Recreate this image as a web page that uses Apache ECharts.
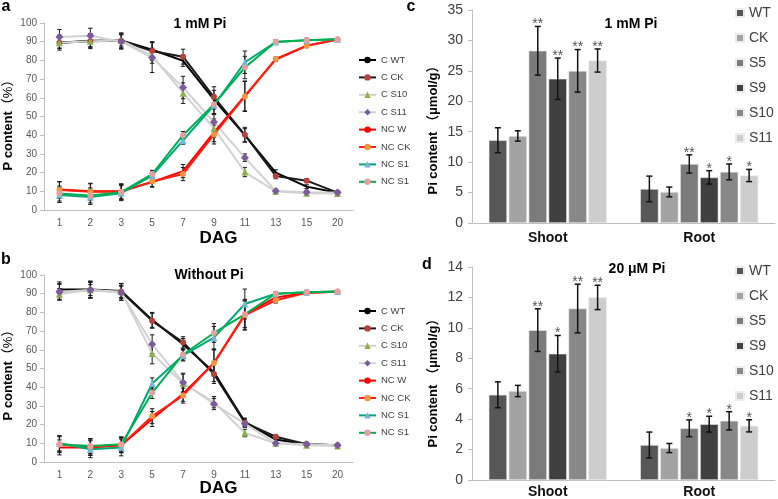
<!DOCTYPE html>
<html><head><meta charset="utf-8">
<script src="https://cdn.jsdelivr.net/npm/echarts@6/dist/echarts.min.js"></script>
<style>html,body{margin:0;padding:0;background:#fff}#c{width:778px;height:499px}</style>
</head><body><div id="c"></div>
<script>
const FF = "'Liberation Sans','Noto Sans CJK SC',sans-serif";
// ---- line panels (a, b) ----
const dag = ['1','2','3','5','7','9','11','13','15','20'];
const lineNames = ['C WT','C CK','C S10','C S11','NC WT','NC CK','NC S10','NC S11'];
// Panel a: 1 mM Pi
const a_C_WT   = [89.5, 90.5, 90.7, 85.7, 79.8, 59, 40, 20, 12.5, 9.2];
const a_C_CK   = [89.5, 90.3, 90.5, 85, 82, 60.4, 40.2, 18.2, 15.7, 9.3];
const a_C_S10  = [89.5, 90.3, 90.7, 82.5, 62.5, 43.7, 20.3, 10, 9, 8.8];
const a_C_S11  = [92.5, 93.2, 90, 81.5, 65.5, 47, 28, 10.2, 9.5, 9.3];
const a_NC_WT  = [11, 10, 10, 15, 20.8, 41.5, 61, 80.5, 87.8, 91.2];
const a_NC_CK  = [10.7, 9.8, 9.8, 15.2, 19.2, 40.3, 60.7, 80.8, 87.9, 91.2];
const a_NC_S10 = [8, 7, 9, 18.4, 37.2, 56, 79, 89.8, 90.8, 91.3];
const a_NC_S11 = [8.8, 7.8, 9.5, 19.2, 40, 56.5, 76.2, 90, 90.8, 91.3];
const a_C_WT_e   = [3, 3.5, 4, 4, 3, 5, 3.5, 1.5, 1, 0.5];
const a_C_CK_e   = [4, 4, 4, 5, 4, 5.5, 4, 1.5, 1, 0.5];
const a_C_S10_e  = [3, 3, 3, 4, 5.5, 5, 2.5, 1, 1, 0.5];
const a_C_S11_e  = [4, 4, 4, 8, 6, 4.5, 2, 1, 1, 0.5];
const a_NC_WT_e  = [4, 4, 4, 2.5, 3.5, 5, 8, 1, 1, 0.5];
const a_NC_CK_e  = [4.5, 4.5, 4, 3, 3.5, 5, 8, 1, 1, 0.5];
const a_NC_S10_e = [4, 4, 4, 2, 2, 5, 6, 1, 1, 0.5];
const a_NC_S11_e = [4, 4, 4, 2, 2, 5, 6, 1, 1, 0.5];
// Panel b: Without Pi
const b_C_WT   = [92.3, 92.3, 91.4, 76, 63, 48, 21.5, 12, 9.5, 9];
const b_C_CK   = [91, 92, 91, 75.5, 64, 47, 21, 13.5, 9.5, 9];
const b_C_S10  = [89.8, 92, 91, 58, 42, 32, 15.5, 10, 9, 8.5];
const b_C_S11  = [91, 92, 90.5, 63, 42.5, 31, 20.5, 10, 9.5, 9];
const b_NC_WT  = [7.8, 7.8, 9, 23, 36.5, 53, 79, 88, 90.5, 91];
const b_NC_CK  = [9.5, 8, 9, 24.5, 35.5, 53, 78.5, 86.5, 90.5, 91];
const b_NC_S10 = [10, 6.8, 7.8, 42, 57, 66.5, 84.5, 90, 90.8, 91.2];
const b_NC_S11 = [9.5, 8.5, 9.5, 37, 57.5, 69, 79, 90, 90.8, 91.2];
const b_C_WT_e   = [4, 4.5, 4, 4, 3, 5, 2, 1, 1, 0.5];
const b_C_CK_e   = [4.5, 4.5, 4.5, 4, 3, 5, 2, 1, 1, 0.5];
const b_C_S10_e  = [3, 3, 3, 5.5, 5, 3, 2, 1, 0.5, 0.5];
const b_C_S11_e  = [4, 4, 4, 5, 5, 3, 2, 1, 0.5, 0.5];
const b_NC_WT_e  = [4, 4, 4, 4, 4, 7, 8, 1.5, 1, 0.5];
const b_NC_CK_e  = [4.5, 4.5, 4, 4, 4, 7, 8, 1.5, 1, 0.5];
const b_NC_S10_e = [4, 4.5, 4.5, 3, 3, 6, 8, 1, 1, 0.5];
const b_NC_S11_e = [4, 4, 4, 3, 3, 5, 7, 1, 1, 0.5];
// ---- bar panels (c, d) ----
const parts = ['Shoot','Root'];
const lines = ['WT','CK','S5','S9','S10','S11'];
// Panel c: 1 mM Pi
const c_WT = [13.6, 5.6],  c_WT_e = [2.05, 2.1];
const c_CK = [14.3, 5.1],  c_CK_e = [0.85, 0.8];
const c_S5 = [28.3, 9.7],  c_S5_e = [4.0, 1.5];
const c_S9 = [23.7, 7.5],  c_S9_e = [3.4, 1.1];
const c_S10 = [25.0, 8.4], c_S10_e = [3.5, 1.3];
const c_S11 = [26.7, 7.8], c_S11_e = [1.9, 1.0];
const c_stars_shoot = ['', '', '**', '**', '**', '**'];
const c_stars_root  = ['', '', '**', '*', '*', '*'];
// Panel d: 20 uM Pi
const d_WT = [5.6, 2.3],    d_WT_e = [0.85, 0.85];
const d_CK = [5.85, 2.1],   d_CK_e = [0.37, 0.3];
const d_S5 = [9.85, 3.4],   d_S5_e = [1.4, 0.55];
const d_S9 = [8.3, 3.67],   d_S9_e = [1.2, 0.52];
const d_S10 = [11.27, 3.89], d_S10_e = [1.6, 0.6];
const d_S11 = [12.0, 3.56], d_S11_e = [0.8, 0.4];
const d_stars_shoot = ['', '', '**', '*', '**', '**'];
const d_stars_root  = ['', '', '*', '*', '*', '*'];

const lineStyleMap = {
  'C WT':  {line:'#000000', symbol:'none'},
  'C CK':  {line:'#1a1a1a', marker:'#b9413d', symbol:'circle', size:6},
  'C S10': {line:'#d2d2d2', marker:'#8fb04e', symbol:'triangle', size:7},
  'C S11': {line:'#d2d2d2', marker:'#7a5c9c', symbol:'diamond', size:8},
  'NC WT': {line:'#ff0000', symbol:'none'},
  'NC CK': {line:'#ff1f10', marker:'#f7963f', symbol:'circle', size:6},
  'NC S10':{line:'#00a878', marker:'#77b5d9', symbol:'triangle', size:7},
  'NC S11':{line:'#00b050', marker:'#e3a0a0', symbol:'circle', size:6}
};
const barColors = {WT:'#575757', CK:'#a3a3a3', S5:'#7b7b7b', S9:'#404040', S10:'#888888', S11:'#cdcdcd'};

const aVals = [a_C_WT,a_C_CK,a_C_S10,a_C_S11,a_NC_WT,a_NC_CK,a_NC_S10,a_NC_S11];
const aErrs = [a_C_WT_e,a_C_CK_e,a_C_S10_e,a_C_S11_e,a_NC_WT_e,a_NC_CK_e,a_NC_S10_e,a_NC_S11_e];
const bVals = [b_C_WT,b_C_CK,b_C_S10,b_C_S11,b_NC_WT,b_NC_CK,b_NC_S10,b_NC_S11];
const bErrs = [b_C_WT_e,b_C_CK_e,b_C_S10_e,b_C_S11_e,b_NC_WT_e,b_NC_CK_e,b_NC_S10_e,b_NC_S11_e];
const cVals = [c_WT,c_CK,c_S5,c_S9,c_S10,c_S11];
const cErrs = [c_WT_e,c_CK_e,c_S5_e,c_S9_e,c_S10_e,c_S11_e];
const dVals = [d_WT,d_CK,d_S5,d_S9,d_S10,d_S11];
const dErrs = [d_WT_e,d_CK_e,d_S5_e,d_S9_e,d_S10_e,d_S11_e];
const cStars = [c_stars_shoot, c_stars_root];
const dStars = [d_stars_shoot, d_stars_root];

const axisGray = '#bfbfbf';
function lineAxes(gi) {
  return {
    x: {type:'category', gridIndex:gi, data:dag, boundaryGap:true,
        axisLine:{lineStyle:{color:axisGray}}, axisTick:{show:false},
        axisLabel:{fontSize:10, color:'#595959', margin:8, fontFamily:FF}},
    y: {type:'value', gridIndex:gi, min:0, max:100, interval:10,
        axisLine:{show:true, lineStyle:{color:axisGray}}, axisTick:{show:true, length:4, lineStyle:{color:axisGray}},
        splitLine:{show:false}, axisLabel:{fontSize:10, color:'#595959', margin:7, fontFamily:FF}}
  };
}
function barAxes(gi, max, interval, margin) {
  return {
    x: {type:'category', gridIndex:gi, data:parts,
        axisLine:{lineStyle:{color:axisGray}}, axisTick:{show:false},
        axisLabel:{fontSize:14, fontWeight:'bold', color:'#111', margin:margin, fontFamily:FF}},
    y: {type:'value', gridIndex:gi, min:0, max:max, interval:interval,
        axisLine:{show:true, lineStyle:{color:axisGray}}, axisTick:{show:true, length:4, lineStyle:{color:axisGray}},
        splitLine:{show:false}, axisLabel:{fontSize:14, color:'#404040', margin:9, fontFamily:FF}}
  };
}
const ax = [lineAxes(0), lineAxes(1), barAxes(2, 35, 5, 8), barAxes(3, 14, 2, 5)];

const series = [];
function addLinePanel(gi, vals, errs) {
  const errData = [];
  vals.forEach((v, k) => v.forEach((y, i) => errData.push([i, y - errs[k][i], y + errs[k][i]])));
  series.push({
    type:'custom', xAxisIndex:gi, yAxisIndex:gi, data:errData, z:1, silent:true,
    renderItem: (params, api) => {
      const x = api.value(0);
      const p1 = api.coord([x, api.value(1)]);
      const p2 = api.coord([x, api.value(2)]);
      const c = 2.2, st = {stroke:'#1a1a1a', lineWidth:1};
      return {type:'group', children:[
        {type:'line', shape:{x1:p1[0], y1:p1[1], x2:p2[0], y2:p2[1]}, style:st},
        {type:'line', shape:{x1:p1[0]-c, y1:p1[1], x2:p1[0]+c, y2:p1[1]}, style:st},
        {type:'line', shape:{x1:p2[0]-c, y1:p2[1], x2:p2[0]+c, y2:p2[1]}, style:st}
      ]};
    }
  });
  lineNames.forEach((name, k) => {
    const st = lineStyleMap[name];
    series.push({
      type:'line', name, xAxisIndex:gi, yAxisIndex:gi, data:vals[k], z:3,
      symbol:st.symbol, symbolSize:st.size || 6, showAllSymbol:true,
      lineStyle:{color:st.line, width:2}, itemStyle:{color:st.marker || st.line}
    });
  });
}
addLinePanel(0, aVals, aErrs);
addLinePanel(1, bVals, bErrs);

const BW = 18.3, GAP = 0.09, PITCH = BW * (1 + GAP);
function addBarPanel(gi, vals, errs, stars) {
  lines.forEach((name, k) => {
    series.push({type:'bar', name, xAxisIndex:gi, yAxisIndex:gi, data:vals[k],
      barWidth:BW, barGap:(GAP*100)+'%', itemStyle:{color:barColors[name], borderColor:'#ececec', borderWidth:0.6}, z:2});
  });
  const errData = [], starList = [];
  vals.forEach((v, k) => v.forEach((y, i) => { errData.push([i, y - errs[k][i], y + errs[k][i], k]); starList.push(stars[i][k]); }));
  series.push({
    type:'custom', xAxisIndex:gi, yAxisIndex:gi, data:errData, z:4, silent:true,
    renderItem: (params, api) => {
      const x = api.value(0), slot = api.value(3);
      const p1 = api.coord([x, api.value(1)]);
      const p2 = api.coord([x, api.value(2)]);
      const cx = p1[0] + (slot - 2.5) * PITCH;
      const c = 3, st = {stroke:'#111', lineWidth:1.5};
      const ch = [
        {type:'line', shape:{x1:cx, y1:p1[1], x2:cx, y2:p2[1]}, style:st},
        {type:'line', shape:{x1:cx-c, y1:p1[1], x2:cx+c, y2:p1[1]}, style:st},
        {type:'line', shape:{x1:cx-c, y1:p2[1], x2:cx+c, y2:p2[1]}, style:st}
      ];
      const s = starList[params.dataIndex];
      if (s) ch.push({type:'text', x:cx, y:p2[1]-9, style:{text:s, fill:'#555', font:'14px ' + FF, align:'center', verticalAlign:'top'}});
      return {type:'group', children:ch};
    }
  });
}
addBarPanel(2, cVals, cErrs, cStars);
addBarPanel(3, dVals, dErrs, dStars);

function txt(x, y, text, font, extra) {
  return Object.assign({type:'text', x, y, silent:true,
    style:{text, font, fill:'#000', align:'center', verticalAlign:'middle'}}, extra || {});
}
const graphics = [
  txt(6, 6.5, 'a', 'bold 16px ' + FF),
  txt(6, 259.5, 'b', 'bold 16px ' + FF),
  txt(411, 6.5, 'c', 'bold 16px ' + FF),
  txt(427, 264.5, 'd', 'bold 16px ' + FF),
  txt(200, 24, '1 mM Pi', 'bold 14px ' + FF),
  txt(209, 275, 'Without Pi', 'bold 14px ' + FF),
  txt(631, 24, '1 mM Pi', 'bold 14px ' + FF),
  txt(637, 269, '20 μM Pi', 'bold 14px ' + FF),
  txt(218.5, 238, 'DAG', 'bold 17px ' + FF),
  txt(218.5, 488, 'DAG', 'bold 17px ' + FF),
  {type:'text', x:8, y:122, rotation:Math.PI/2, silent:true,
   style:{text:'{b|P content}{n|（%）}', align:'center', verticalAlign:'middle', fill:'#000',
     rich:{b:{font:'bold 13px ' + FF}, n:{font:'13px ' + FF}}}},
  {type:'text', x:8, y:372, rotation:Math.PI/2, silent:true,
   style:{text:'{b|P content}{n|（%）}', align:'center', verticalAlign:'middle', fill:'#000',
     rich:{b:{font:'bold 13px ' + FF}, n:{font:'13px ' + FF}}}},
  txt(433, 127, 'Pi content （μmol/g）', 'bold 13px ' + FF, {rotation:Math.PI/2}),
  txt(433, 380, 'Pi content （μmol/g）', 'bold 13px ' + FF, {rotation:Math.PI/2})
];

function lineLegend(top) {
  return {data:lineNames, orient:'vertical', left:358, top, padding:0, itemGap:7.4,
    itemWidth:17, itemHeight:8, selectedMode:false,
    textStyle:{fontSize:9.5, lineHeight:10, color:'#404040', fontFamily:FF, width:31, overflow:'truncate', ellipsis:''}};
}
function barLegend(top) {
  return {data:lines, orient:'vertical', left:735, top, padding:0, itemGap:11, icon:'rect',
    itemWidth:8, itemHeight:8, selectedMode:false,
    textStyle:{fontSize:14, lineHeight:14, color:'#404040', fontFamily:FF}};
}

const chart = echarts.init(document.getElementById('c'), null, {renderer:'canvas'});
chart.setOption({
  animation:false,
  backgroundColor:'#fff',
  grid:[
    {left:44, top:23, width:309, height:187},
    {left:44, top:275, width:309, height:187},
    {left:472, top:10, width:303, height:213},
    {left:472, top:267, width:303, height:214}
  ],
  xAxis: ax.map(a => a.x),
  yAxis: ax.map(a => a.y),
  legend:[lineLegend(55), lineLegend(306), barLegend(6), barLegend(264)],
  graphic: graphics,
  series
});
</script></body></html>
